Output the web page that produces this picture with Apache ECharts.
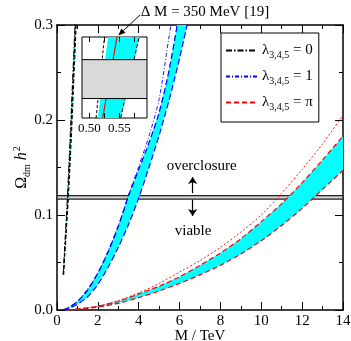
<!DOCTYPE html>
<html>
<head>
<meta charset="utf-8">
<script src="https://cdn.jsdelivr.net/npm/echarts@6/dist/echarts.min.js"></script>
<style>
  html, body { margin: 0; padding: 0; background: #fff; }
  #chart { width: 351px; height: 341px; }
</style>
</head>
<body>
<div id="chart"></div>
<script>
// [M (TeV), Omega h^2] pairs
const lam0Hi = [[0.31, 0.037], [0.37, 0.06], [0.43, 0.08], [0.53, 0.119], [0.66, 0.18], [0.76, 0.23], [0.92, 0.31]]
const lam0Lo = [[0.33, 0.037], [0.39, 0.06], [0.45, 0.08], [0.56, 0.119], [0.70, 0.18], [0.80, 0.23], [0.96, 0.31]]
const lam0Line = [[0.30, 0.037], [0.36, 0.06], [0.41, 0.08], [0.51, 0.119], [0.64, 0.18], [0.74, 0.23], [0.90, 0.31]]

const lam1Hi = [[0.3, 0], [0.6, 0.003], [1.0, 0.009], [1.5, 0.021], [2.0, 0.039], [2.5, 0.061], [3.0, 0.088], [3.5, 0.12], [4.0, 0.148], [4.5, 0.176], [5.0, 0.208], [5.5, 0.254], [6.0, 0.315]]
const lam1Lo = [[0.3, 0], [0.6, 0.002], [1.0, 0.006], [1.5, 0.014], [2.0, 0.027], [2.5, 0.045], [3.0, 0.066], [3.5, 0.09], [4.0, 0.118], [4.5, 0.15], [5.0, 0.184], [5.5, 0.222], [6.0, 0.265], [6.5, 0.313]]
const lam1Line = [[0.3, 0], [1.0, 0.009], [2.0, 0.039], [3.0, 0.089], [3.5, 0.121], [4.0, 0.151], [4.5, 0.183], [5.0, 0.222], [5.5, 0.29], [5.7, 0.315]]

const lamPiHi = [[0.5, 0], [1, 0.001], [2, 0.004], [3, 0.009], [4, 0.017], [5, 0.025], [6, 0.035], [7, 0.047], [8, 0.06], [9, 0.075], [10, 0.093], [11, 0.112], [12, 0.134], [13, 0.158], [14, 0.183]]
const lamPiLo = [[0.5, 0], [1, 0.0008], [2, 0.003], [3, 0.007], [4, 0.013], [5, 0.02], [6, 0.028], [7, 0.037], [8, 0.047], [9, 0.059], [10, 0.073], [11, 0.089], [12, 0.107], [13, 0.127], [14, 0.147]]
const lamPiLine = [[0.5, 0], [1, 0.001], [2, 0.004], [3, 0.01], [4, 0.018], [5, 0.028], [6, 0.04], [7, 0.052], [8, 0.066], [9, 0.082], [10, 0.1], [11, 0.123], [12, 0.148], [13, 0.175], [14, 0.205]]

// overclosure band
const omegaBand = [0.1168, 0.1204]

// inset (Delta M = 350 MeV)
const insetX = [0.4875, 0.596]
const insetY = [0.115, 0.1225]
const insetLeftDash = [[0.511, 0.115], [0.525, 0.1225]]
const insetBandHi = [[0.514, 0.115], [0.531, 0.1225]]
const insetBandLo = [[0.552, 0.115], [0.583, 0.1225]]
const insetRed = [[0.522, 0.115], [0.546, 0.1225]]
const insetLabels = [0.5, 0.55]
const insetTicks = [0.5, 0.525, 0.55, 0.575]

// annotations: [M, Omega, text]
const texts = [[7.08, 0.152, 'overclosure'], [6.66, 0.083, 'viable']]
const arrows = [[[6.64, 0.123], [6.64, 0.14]], [[6.64, 0.116], [6.64, 0.099]]]
const deltaText = [7.24, 0.3137, 'Δ M = 350 MeV [19]']
const deltaArrow = [[4.06, 0.3105], [3.0, 0.289]]

const legendNames = { lam0: '0', lam1: '1', lamPi: 'π' }

const FONT = 'Liberation Serif'
const chart = echarts.init(document.getElementById('chart'), null, { renderer: 'canvas' })

function band(hi, lo, xi, yi) {
    return {
        type: 'custom', xAxisIndex: xi, yAxisIndex: yi, clip: true, silent: true, z: 1,
        data: [0],
        renderItem: (params, api) => {
            const pts = hi.concat(lo.slice().reverse()).map(p => api.coord(p))
            return { type: 'polygon', shape: { points: pts }, style: { fill: '#00ffff', stroke: null } }
        }
    }
}

function curve(data, color, type, width, name, xi = 0, yi = 0) {
    return {
        type: 'line', name: name, xAxisIndex: xi, yAxisIndex: yi, data: data,
        showSymbol: false, symbol: 'none', smooth: 0.3, z: 3, silent: true,
        lineStyle: { color: color, type: type, width: width }
    }
}

// every axis gets its own copies, onZero off so mirror axes stay on their own side
const frameLine = () => ({ show: true, onZero: false, lineStyle: { color: '#000', width: 1.5 } })
const tickStyle = () => ({ show: true, inside: true, length: 8, lineStyle: { color: '#000', width: 1 } })
const minorStyle = () => ({ show: true, splitNumber: 2, length: 4, lineStyle: { color: '#000', width: 1 } })
const insetTick = () => ({ show: true, inside: true, length: 5, customValues: insetTicks, lineStyle: { color: '#000', width: 1 } })

const option = {
    backgroundColor: '#fff',
    animation: false,
    textStyle: { fontFamily: FONT },
    grid: [
        { left: 57, right: 8, top: 25, bottom: 31, outerBoundsMode: 'none' },
        { left: 82, top: 37, width: 65, height: 81, outerBoundsMode: 'none', show: true,
          backgroundColor: '#fff', borderColor: '#000', borderWidth: 1, z: 5 }
    ],
    legend: {
        data: ['lam0', 'lam1', 'lamPi'],
        orient: 'vertical', left: 221, top: 33,
        itemWidth: 31, itemHeight: 12, itemGap: 9,
        padding: [10, 6, 10, 4],
        borderColor: '#000', borderWidth: 1, backgroundColor: '#fff',
        itemStyle: { opacity: 0 },
        formatter: n => '{l|λ}{s|3,4,5}{l| = ' + legendNames[n] + '}',
        textStyle: {
            color: '#000', fontFamily: FONT,
            rich: {
                l: { fontSize: 15, fontFamily: FONT, color: '#000', lineHeight: 20 },
                s: { fontSize: 10, fontFamily: FONT, color: '#000', padding: [9, 0, 0, 0] }
            }
        }
    },
    xAxis: [
        {
            type: 'value', gridIndex: 0, min: 0, max: 14, interval: 2,
            name: 'M / TeV', nameLocation: 'middle', nameGap: 19, nameMoveOverlap: false,
            nameTextStyle: { fontSize: 15, fontFamily: FONT, color: '#000' },
            axisLine: frameLine(), axisTick: tickStyle(), minorTick: minorStyle(),
            axisLabel: { color: '#000', fontSize: 15, fontFamily: FONT, margin: 4 },
            splitLine: { show: false }, minorSplitLine: { show: false }
        },
        {
            type: 'value', gridIndex: 0, position: 'top', min: 0, max: 14, interval: 2,
            axisLine: frameLine(), axisTick: tickStyle(), minorTick: minorStyle(),
            axisLabel: { show: false }, splitLine: { show: false }
        },
        {
            type: 'value', gridIndex: 1, min: insetX[0], max: insetX[1], interval: 0.0125, z: 7,
            axisLine: { show: false, onZero: false },
            axisTick: insetTick(),
            axisLabel: { customValues: insetLabels, color: '#000', fontSize: 13, fontFamily: FONT, margin: 4,
                         formatter: v => v.toFixed(2) },
            splitLine: { show: false }
        },
        {
            type: 'value', gridIndex: 1, position: 'top', min: insetX[0], max: insetX[1], interval: 0.0125, z: 7,
            axisLine: { show: false, onZero: false },
            axisTick: insetTick(),
            axisLabel: { show: false }, splitLine: { show: false }
        }
    ],
    yAxis: [
        {
            type: 'value', gridIndex: 0, min: 0, max: 0.3, interval: 0.1,
            name: '{o|Ω}{s|dm}{h| h}{p|2}', nameLocation: 'middle', nameGap: 25, nameRotate: 90,
            nameMoveOverlap: false,
            nameTextStyle: {
                color: '#000', fontFamily: FONT,
                rich: {
                    o: { fontSize: 16, fontFamily: FONT, color: '#000' },
                    s: { fontSize: 10, fontFamily: FONT, color: '#000', padding: [10, 0, 0, 0] },
                    h: { fontSize: 16, fontFamily: FONT, fontStyle: 'italic', color: '#000' },
                    p: { fontSize: 10, fontFamily: FONT, color: '#000', padding: [0, 0, 10, 1] }
                }
            },
            axisLine: frameLine(), axisTick: tickStyle(), minorTick: minorStyle(),
            axisLabel: { color: '#000', fontSize: 15, fontFamily: FONT, margin: 4, formatter: v => v.toFixed(1) },
            splitLine: { show: false }
        },
        {
            type: 'value', gridIndex: 0, position: 'right', min: 0, max: 0.3, interval: 0.1,
            axisLine: frameLine(), axisTick: tickStyle(), minorTick: minorStyle(),
            axisLabel: { show: false }, splitLine: { show: false }
        },
        {
            type: 'value', gridIndex: 1, min: insetY[0], max: insetY[1],
            axisLine: { show: false, onZero: false }, axisTick: { show: false }, axisLabel: { show: false },
            splitLine: { show: false }
        }
    ],
    series: [
        band(lam0Hi, lam0Lo, 0, 0),
        band(lam1Hi, lam1Lo, 0, 0),
        band(lamPiHi, lamPiLo, 0, 0),
        curve(lam0Hi, '#000', [4, 2], 1),
        curve(lam0Lo, '#000', [4, 2], 1),
        curve(lam0Line, '#000', [6, 2, 1.5, 2], 1, 'lam0'),
        curve(lam1Hi, '#0000ff', [6, 3], 1.2),
        curve(lam1Lo, '#0000ff', [6, 3], 1.2),
        curve(lam1Line, '#0000ff', [4, 2, 1, 2], 0.9, 'lam1'),
        curve(lamPiHi, '#ff0000', [5, 3], 1.2, 'lamPi'),
        curve(lamPiLo, '#ff0000', [5, 3], 1.2),
        curve(lamPiLine, '#ff0000', [2, 2], 0.9),
        {
            type: 'line', xAxisIndex: 0, yAxisIndex: 0, data: [], z: 4, silent: true,
            markArea: {
                silent: true,
                itemStyle: { color: '#d3d3d3', borderColor: '#222', borderWidth: 1.3 },
                data: [[{ coord: [0, omegaBand[0]] }, { coord: [14, omegaBand[1]] }]]
            }
        },
        {
            type: 'line', xAxisIndex: 0, yAxisIndex: 0, data: [], z: 6, clip: false, silent: true,
            markLine: {
                silent: true, symbol: ['none', 'arrow'], symbolSize: 7, precision: 4,
                lineStyle: { color: '#000', width: 1.2, type: 'solid' },
                label: { show: false },
                data: arrows.map(a => [{ coord: a[0] }, { coord: a[1] }])
            },
            markPoint: {
                silent: true, symbol: 'circle', symbolSize: 0,
                label: { show: true, position: 'inside', formatter: '{b}', color: '#000', fontSize: 15, fontFamily: FONT },
                data: texts.map(t => ({ coord: [t[0], t[1]], name: t[2] }))
            }
        },
        Object.assign(band(insetBandHi, insetBandLo, 2, 2), { z: 6 }),
        Object.assign(curve(insetLeftDash, '#000', [3, 2], 1, undefined, 2, 2), { z: 7, smooth: false }),
        Object.assign(curve(insetBandLo, '#000', [4, 2], 1, undefined, 2, 2), { z: 7, smooth: false }),
        Object.assign(curve(insetRed, '#ff0000', 'solid', 1.2, undefined, 2, 2), { z: 7, smooth: false }),
        {
            // gray overclosure band inside the inset
            type: 'custom', xAxisIndex: 2, yAxisIndex: 2, clip: true, silent: true, z: 8,
            data: [0],
            renderItem: (params, api) => {
                const a = api.coord([insetX[0], omegaBand[1]])
                const b = api.coord([insetX[1], omegaBand[0]])
                return {
                    type: 'rect',
                    shape: { x: a[0], y: a[1], width: b[0] - a[0], height: b[1] - a[1] },
                    style: { fill: '#d9d9d9', stroke: '#000', lineWidth: 1 }
                }
            }
        }
    ]
}

chart.setOption(option)

// Delta M label and its arrow sit above the plot area, placed through the main grid's scales
const t0 = chart.convertToPixel({ xAxisIndex: 0, yAxisIndex: 0 }, [deltaText[0], deltaText[1]])
const a0 = chart.convertToPixel({ xAxisIndex: 0, yAxisIndex: 0 }, deltaArrow[0])
const a1 = chart.convertToPixel({ xAxisIndex: 0, yAxisIndex: 0 }, deltaArrow[1])
const dx = a1[0] - a0[0], dy = a1[1] - a0[1]
const len = Math.sqrt(dx * dx + dy * dy)
const ux = dx / len, uy = dy / len
const head = 7, half = 3
const base = [a1[0] - ux * head, a1[1] - uy * head]
chart.setOption({
    graphic: [
        {
            type: 'text', x: t0[0], y: t0[1], z: 100,
            style: { text: deltaText[2], fill: '#000', font: '15px ' + FONT, align: 'center', verticalAlign: 'middle' }
        },
        {
            type: 'line', z: 100,
            shape: { x1: a0[0], y1: a0[1], x2: base[0], y2: base[1] },
            style: { stroke: '#000', lineWidth: 1 }
        },
        {
            type: 'polygon', z: 100,
            shape: { points: [a1, [base[0] - uy * half, base[1] + ux * half], [base[0] + uy * half, base[1] - ux * half]] },
            style: { fill: '#000' }
        }
    ]
})
</script>
</body>
</html>
